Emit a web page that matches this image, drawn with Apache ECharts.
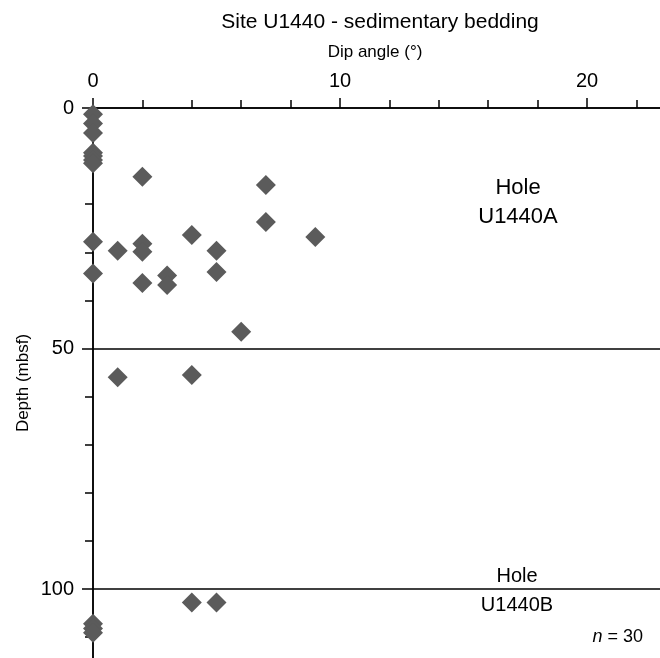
<!DOCTYPE html>
<html>
<head>
<meta charset="utf-8">
<script src="https://cdn.jsdelivr.net/npm/echarts@6/dist/echarts.min.js"></script>
<style>html,body{margin:0;padding:0;background:#fff}#c{width:660px;height:658px}</style>
</head>
<body>
<div id="c"></div>
<script>
// Dip angle (°) values
const dipAngle = [0,0,0, 0,0,0,0, 2, 0, 1, 2,2, 0, 2, 3,3, 7,7, 9, 4, 5,5, 6, 1, 4, 4,5, 0,0,0];
// Depth (mbsf) values
const depth = [1.3,3.2,5.2, 9.3,10.0,10.8,11.5, 14.3, 27.8, 29.7, 28.2,29.9, 34.4, 36.4, 34.8,36.8, 16.0,23.7, 26.8, 26.4, 29.7,34.1, 46.5, 56.0, 55.5, 102.8,102.8, 107.2,108.2,109.1];
const xTicks = [0, 10, 20];
const yTicks = [0, 50, 100];
const holeBoundaries = [50, 100];

const font = 'Liberation Sans, Arial, Helvetica, sans-serif';
const chart = echarts.init(document.getElementById('c'));
const axisCommon = {
  type: 'value', position: 'top', min: 0, max: 24,
  axisLine: {show: true, lineStyle: {color: '#000', width: 1.5}},
  splitLine: {show: false}
};
const yCommon = {
  type: 'value', position: 'left', inverse: true, min: 0, max: 120,
  axisLine: {show: true, lineStyle: {color: '#000', width: 1.5}},
  splitLine: {show: false}
};
const txt = (x, y, text, size) => ({type: 'text', x: x, y: y,
  style: {text: text, fontFamily: font, fontSize: size, fill: '#000', textAlign: 'center', textVerticalAlign: 'middle'}});
chart.setOption({
  animation: false,
  title: {
    text: 'Site U1440 - sedimentary bedding', left: 375, top: 7, textAlign: 'center',
    textStyle: {fontFamily: font, fontSize: 21, fontWeight: 'normal', color: '#000'}
  },
  grid: {left: 93, top: 108, width: 592.8, height: 577.2, containLabel: false, outerBoundsMode: 'none'},
  xAxis: [
    Object.assign({}, axisCommon, {
      interval: 2,
      axisTick: {show: true, inside: false, length: 8, lineStyle: {color: '#000', width: 1.5}},
      axisLabel: {show: false}
    }),
    Object.assign({}, axisCommon, {
      interval: 10,
      axisTick: {show: true, inside: false, length: 10, lineStyle: {color: '#000', width: 1.5}},
      axisLabel: {show: true, margin: 17, fontFamily: font, fontSize: 20, color: '#000',
        formatter: v => xTicks.indexOf(v) >= 0 ? String(v) : ''}
    })
  ],
  yAxis: [
    Object.assign({}, yCommon, {
      interval: 10,
      axisTick: {show: true, inside: false, length: 8, lineStyle: {color: '#000', width: 1.5}},
      axisLabel: {show: false}
    }),
    Object.assign({}, yCommon, {
      interval: 50,
      axisTick: {show: true, inside: false, length: 11, lineStyle: {color: '#000', width: 1.5}},
      axisLabel: {show: true, margin: 19, fontFamily: font, fontSize: 20, color: '#000',
        formatter: v => yTicks.indexOf(v) >= 0 ? String(v) : ''}
    })
  ],
  graphic: [
    txt(375, 52, 'Dip angle (°)', 17),
    Object.assign(txt(23, 383, 'Depth (mbsf)', 17), {rotation: Math.PI / 2}),
    txt(518, 188, 'Hole', 22),
    txt(518, 217, 'U1440A', 22),
    txt(517, 576, 'Hole', 20),
    txt(517, 605, 'U1440B', 20),
    {type: 'text', x: 643, y: 637, style: {rich: {i: {fontStyle: 'italic', fontFamily: font, fontSize: 18, fill: '#000'}, r: {fontFamily: font, fontSize: 18, fill: '#000'}}, text: '{i|n}{r| = 30}', textAlign: 'right', textVerticalAlign: 'middle'}}
  ],
  series: [{
    type: 'scatter', xAxisIndex: 0, yAxisIndex: 0,
    symbol: 'diamond', symbolSize: 20,
    itemStyle: {color: '#5b5b5b', opacity: 1},
    data: dipAngle.map((d, i) => [d, depth[i]]),
    markLine: {
      silent: true, symbol: 'none', label: {show: false},
      lineStyle: {color: '#000', width: 1.5, type: 'solid'},
      data: holeBoundaries.map(v => ({yAxis: v}))
    }
  }]
});
</script>
</body>
</html>
